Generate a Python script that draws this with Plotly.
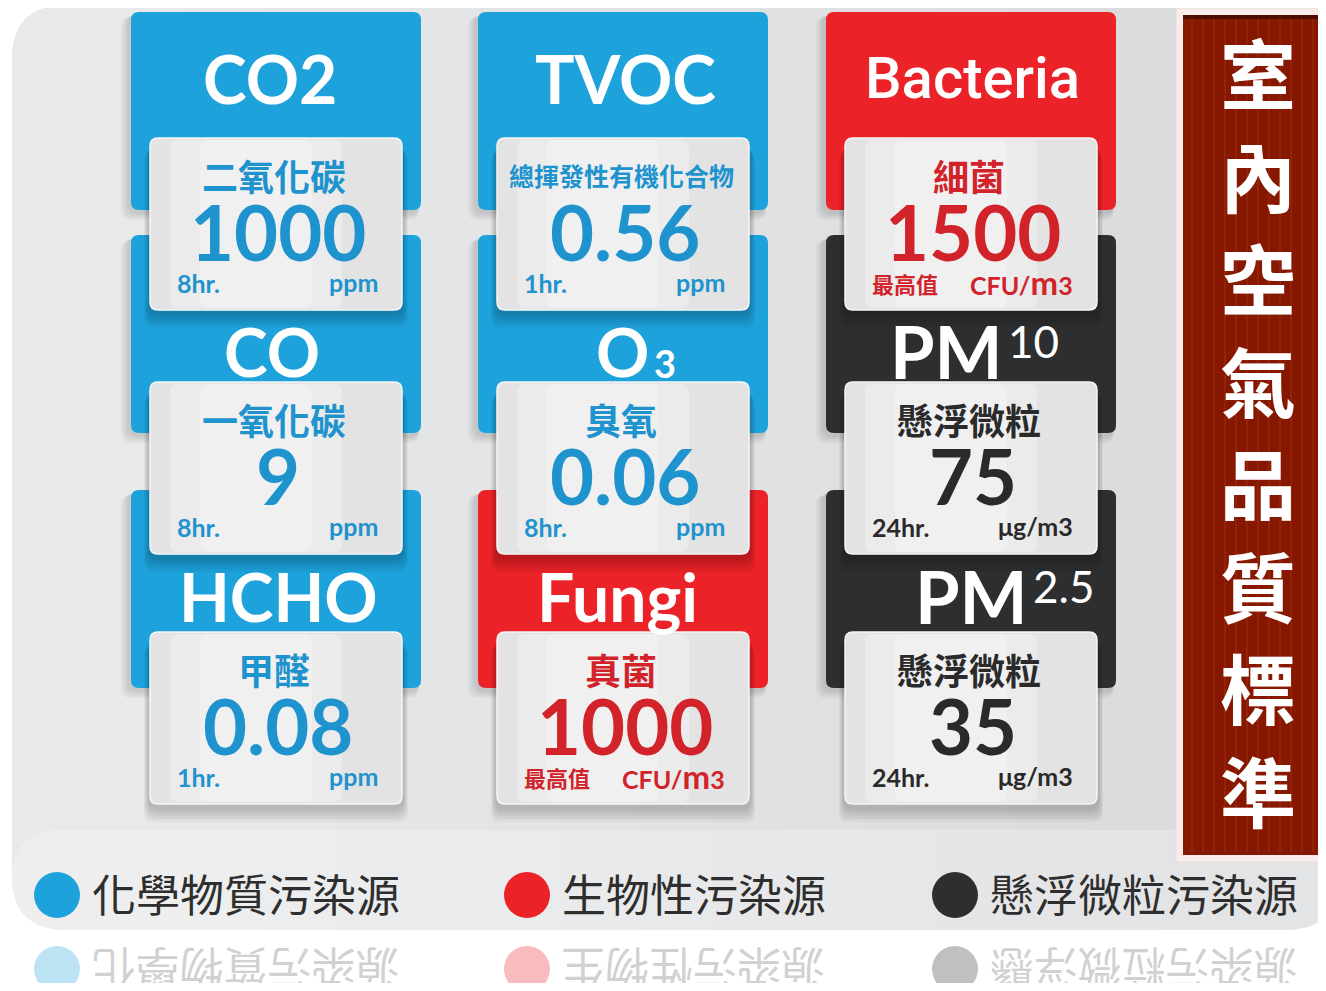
import plotly.graph_objects as go

# ---------------- data ----------------
title_main = ["CO2", "CO", "HCHO", "TVOC", "O", "Fungi", "Bacteria", "PM", "PM"]
title_script = ["", "", "", "", "3", "", "", "10", "2.5"]
script_kind = ["", "", "", "", "sub", "", "", "sup", "sup"]
cn_names = ["二氧化碳", "一氧化碳", "甲醛", "總揮發性有機化合物", "臭氧", "真菌", "細菌", "懸浮微粒", "懸浮微粒"]
limits = [1000, 9, 0.08, 0.56, 0.06, 1000, 1500, 75, 35]
periods = ["8hr.", "8hr.", "1hr.", "1hr.", "8hr.", "最高值", "最高值", "24hr.", "24hr."]
units = ["ppm", "ppm", "ppm", "ppm", "ppm", "CFU/m3", "CFU/m3", "μg/m3", "μg/m3"]
sources = ["chem", "chem", "chem", "chem", "chem", "bio", "bio", "pm", "pm"]
source_keys = ["chem", "bio", "pm"]
source_labels = ["化學物質污染源", "生物性污染源", "懸浮微粒污染源"]
title_chars = list("室內空氣品質標準")

# ---------------- styling / layout ----------------
W, H = 1326, 991
OFF = 8  # default page body margin
tile_col = {"chem": "#1EA2DC", "bio": "#EB2227", "pm": "#2D2E30"}
text_col = {"chem": "#1E93CD", "bio": "#D3232A", "pm": "#2A2A2A"}
col_x0 = [131, 478, 826]
tile_w = 290
tile_top = [12, 235, 490]
tile_h = 198
card_dx0, card_w = 19, 252
card_top = [138, 382, 632]
card_h = 172
title_y = [77, 350, 595]
title_x = [270, 272, 278, 625, 651, 617, 972, 1005, 1030]
LAT = "Lato, 'Noto Sans', sans-serif"
CJK = "'Noto Sans CJK TC', sans-serif"


def rr(x0, y0, x1, y1, r, left_only=False):
    if left_only:
        return (f"M{x0+r},{y0} L{x1},{y0} L{x1},{y1} L{x0+r},{y1} "
                f"Q{x0},{y1} {x0},{y1-r} L{x0},{y0+r} Q{x0},{y0} {x0+r},{y0} Z")
    return (f"M{x0+r},{y0} L{x1-r},{y0} Q{x1},{y0} {x1},{y0+r} L{x1},{y1-r} "
            f"Q{x1},{y1} {x1-r},{y1} L{x0+r},{y1} Q{x0},{y1} {x0},{y1-r} "
            f"L{x0},{y0+r} Q{x0},{y0} {x0+r},{y0} Z")


shapes = []
ann = []

def path(p, fill, line=None, lw=0, opacity=1):
    shapes.append(dict(type="path", path=p, fillcolor=fill, opacity=opacity,
                       line=dict(color=line or "rgba(0,0,0,0)", width=lw),
                       xref="x", yref="y", layer="below"))

def text(x, y, s, size, color, font=LAT, xanchor="center", angle=0, opacity=1,
         yanchor="middle", weight=None):
    f = dict(size=size, color=color, family=font)
    if weight:
        f["weight"] = weight
    ann.append(dict(x=x, y=y, text=s, showarrow=False, xref="x", yref="y",
                    xanchor=xanchor, yanchor=yanchor, textangle=angle, opacity=opacity,
                    font=f))

# background panel with left-to-right light gradient
path(rr(12, 5, 1340, 930, 55), "#DADBDD")
for i in range(14):
    w = 1150 - i * 75
    path(rr(12, 5, 12 + w, 930, 55, left_only=True), "rgba(255,255,255,0.045)")
path(rr(12, 830, 1340, 930, 50), "rgba(255,255,255,0.25)")

# tiles (headers)
for k in range(9):
    c, r = divmod(k, 3)
    x0 = col_x0[c]
    y0 = tile_top[r]
    for s in range(4):
        path(rr(x0 - 4 - 2 * s, y0 + 2 + s, x0 + tile_w - 2, y0 + tile_h + 4 + 2 * s, 10),
             "rgba(0,0,0,0.035)")
    path(rr(x0, y0, x0 + tile_w, y0 + tile_h, 8), tile_col[sources[k]])

# cards
for k in range(9):
    c, r = divmod(k, 3)
    x0 = col_x0[c] + card_dx0
    y0 = card_top[r]
    for s in range(5):
        path(rr(x0 - 2 - s, y0 + 6 + 2 * s, x0 + card_w + 2 + s, y0 + card_h + 6 + 3 * s, 10),
             "rgba(0,0,0,0.045)")
    path(rr(x0, y0, x0 + card_w, y0 + card_h, 8), "#E3E3E4", line="#F6F6F6", lw=1.5)
    path(rr(x0 + 20, y0 + 2, x0 + card_w - 60, y0 + card_h - 2, 8), "rgba(255,255,255,0.3)")
    path(rr(x0 + 50, y0 + 2, x0 + card_w - 90, y0 + card_h - 2, 8), "rgba(255,255,255,0.25)")

# titles + card texts
for k in range(9):
    c, r = divmod(k, 3)
    x0 = col_x0[c]
    tc = text_col[sources[k]]
    main = title_main[k]
    ty = title_y[r] + 1
    if script_kind[k] == "":
        if main == "Bacteria":
            text(title_x[k], ty, main, 58, "white", font="Roboto, 'Noto Sans', sans-serif",
                 weight=500)
        else:
            text(title_x[k], ty, f"<b>{main}</b>", 66, "white")
    elif script_kind[k] == "sub":
        text(title_x[k], ty, f"<b>{main}</b>", 66, "white", xanchor="right")
        text(title_x[k] + 1, ty + 12, f"<b>{title_script[k]}</b>", 38, "white", xanchor="left")
    else:
        text(title_x[k], ty, f"<b>{main}</b>", 72, "white", xanchor="right")
        text(title_x[k] + 1, ty - 10, title_script[k], 44, "white", xanchor="left")
    cx0 = x0 + card_dx0
    cy0 = card_top[r]
    nm = cn_names[k]
    text(cx0 + card_w / 2 - 2, cy0 + 37, f"<b>{nm}</b>", 36 if len(nm) <= 4 else 25, tc, font=CJK)
    text(cx0 + card_w / 2 + 2, cy0 + 93, f"<b>{limits[k]:g}</b>", 76, tc)
    per = periods[k]
    is_hr = per.endswith("hr.")
    text(cx0 + 25, cy0 + 145, f"<b>{per}</b>", 25 if is_hr else 22, tc,
         font=LAT if is_hr else CJK, xanchor="left")
    u = units[k]
    if u == "CFU/m3":
        u = "CFU/<span style='font-size:33px'>m</span>3"
    text(cx0 + card_w - 22, cy0 + 144, f"<b>{u}</b>", 25, tc, xanchor="right")

# vertical title banner
path("M1176,8 L1340,8 L1340,862 L1176,862 Z", "#FBECEC", line="#E9D9D9", lw=1)
path("M1183,15 L1340,15 L1340,855 L1183,855 Z", "#861700")
for i in range(13):
    xx = 1192 + i * 11
    shapes.append(dict(type="line", x0=xx, x1=xx, y0=18, y1=852, xref="x", yref="y",
                       line=dict(color="rgba(230,120,60,0.28)", width=1), layer="below"))
shapes.append(dict(type="line", x0=1183, x1=1340, y0=17, y1=17, xref="x", yref="y",
                   line=dict(color="#4E0D00", width=4), layer="below"))
for i, ch in enumerate(title_chars):
    text(1258, 71 + i * 102.5, f"<b>{ch}</b>", 76, "white", font=CJK)

# legend and its reflection
leg_circle_x = [57, 527, 955]
for i, key in enumerate(source_keys):
    cx = leg_circle_x[i]
    shapes.append(dict(type="circle", x0=cx - 23, x1=cx + 23, y0=895 - 23, y1=895 + 23,
                       xref="x", yref="y", fillcolor=tile_col[key], line=dict(width=0)))
    text(cx + 33, 893, source_labels[i], 44, "#2E2E2E", font=CJK, xanchor="left")
    shapes.append(dict(type="circle", x0=cx - 23, x1=cx + 23, y0=969 - 23, y1=969 + 23,
                       xref="x", yref="y", fillcolor=tile_col[key], opacity=0.3,
                       line=dict(width=0)))
    rev = source_labels[i][::-1]
    text(cx + 33 + len(rev) * 44.5 / 2, 970, rev, 44, "rgba(150,150,150,0.45)", font=CJK,
         angle=180)

fig = go.Figure()
fig.update_layout(
    width=W - 2 * OFF, height=H - 2 * OFF, margin=dict(l=0, r=0, t=0, b=0),
    paper_bgcolor="white", plot_bgcolor="white",
    xaxis=dict(range=[OFF, W - OFF], visible=False, fixedrange=True),
    yaxis=dict(range=[H - OFF, OFF], visible=False, fixedrange=True),
    shapes=shapes, annotations=ann, showlegend=False,
)
fig.write_html("out.html")
